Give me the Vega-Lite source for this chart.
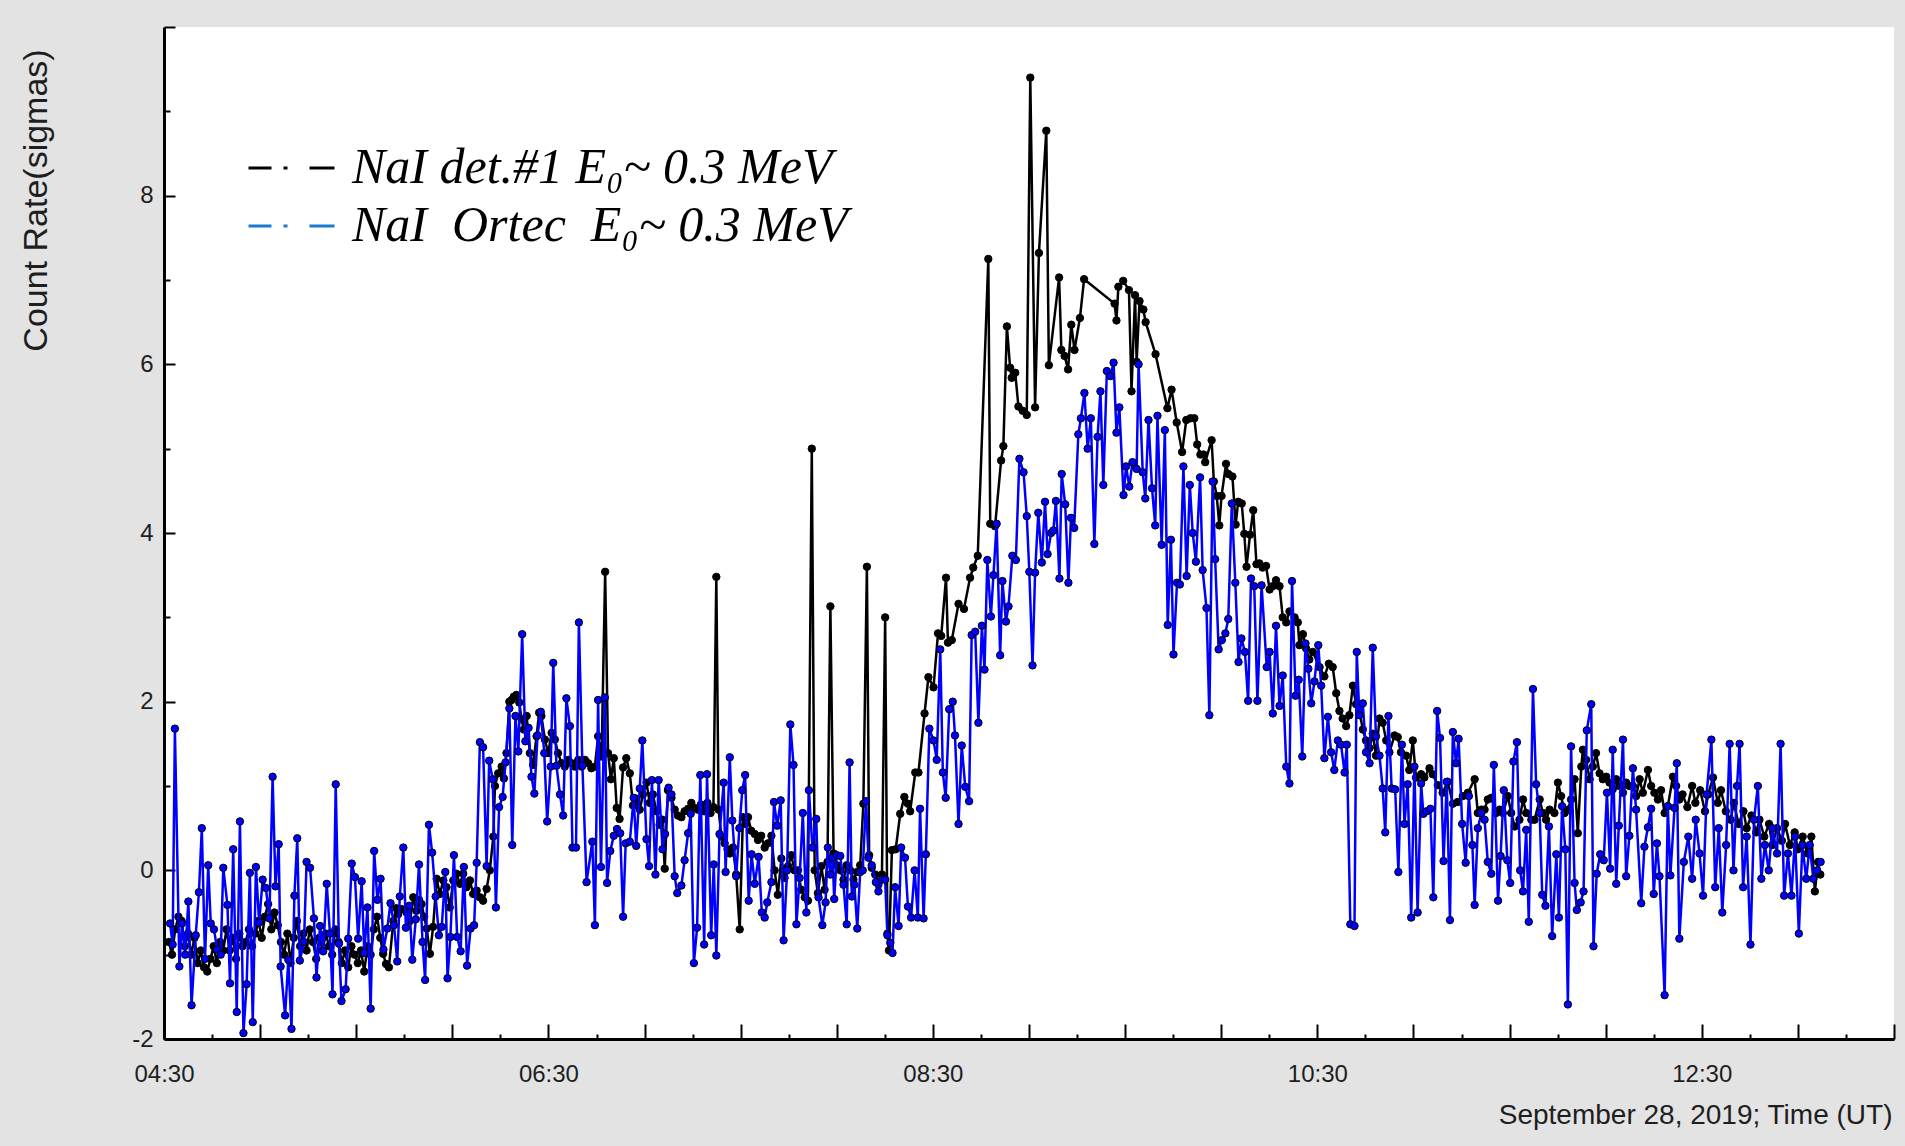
{
  "$schema": "https://vega.github.io/schema/vega-lite/v6.json",
  "width": 1730,
  "height": 1012,
  "autosize": {"type": "none"},
  "padding": {"left": 164, "top": 27, "right": 11, "bottom": 107},
  "background": "#e3e3e3",
  "config": {
    "view": {"fill": "#ffffff", "stroke": null},
    "axis": {
      "grid": false,
      "domainColor": "#000000",
      "domainWidth": 3,
      "tickColor": "#000000",
      "tickWidth": 2,
      "labelColor": "#1e1e1e",
      "titleColor": "#1e1e1e",
      "titleFontWeight": "normal",
      "labelFont": "Liberation Sans, Arial, sans-serif",
      "titleFont": "Liberation Sans, Arial, sans-serif"
    }
  },
  "encoding": {
    "x": {
      "field": "minute",
      "type": "quantitative",
      "scale": {"domain": [270, 810], "nice": false, "zero": false},
      "axis": {
        "values": [270,285,300,315,330,345,360,375,390,405,420,435,450,465,480,495,510,525,540,555,570,585,600,615,630,645,660,675,690,705,720,735,750,765,780,795,810],
        "labelExpr": "(datum.value - 270) % 120 === 0 ? timeFormat(datetime(2019, 8, 28, 0, datum.value), '%H:%M') : ''",
        "labelFontSize": 24,
        "labelPadding": 38,
        "labelFlush": false,
        "labelOverlap": false,
        "labelBaseline": "top",
        "tickSize": {"condition": {"test": "datum.value % 30 !== 0", "value": -5}, "value": -15},
        "title": "September 28, 2019; Time (UT)",
        "titleFontSize": 28,
        "titleAlign": "right",
        "titleBaseline": "middle",
        "titleX": 1728,
        "titleY": 76
      }
    },
    "y": {
      "field": "sigma",
      "type": "quantitative",
      "scale": {"domain": [-2, 10], "nice": false, "zero": false},
      "axis": {
        "values": [-2,-1,0,1,2,3,4,5,6,7,8,9,10],
        "labelExpr": "datum.value % 2 === 0 && datum.value < 10 ? '' + datum.value : ''",
        "labelFontSize": 24,
        "labelPadding": 22,
        "tickSize": {"condition": {"test": "datum.value % 2 !== 0", "value": -6}, "value": -11},
        "title": "Count Rate(sigmas)",
        "titleFontSize": 34,
        "titleAngle": -90,
        "titleAlign": "center",
        "titleBaseline": "middle",
        "titleX": -128,
        "titleY": 173
      }
    }
  },
  "layer": [
    {
      "data": {"values": [
        {"minute":271.5,"sigma":-0.85},{"minute":272.5,"sigma":-1.0},{"minute":273.5,"sigma":-0.7},{"minute":274.5,"sigma":-0.55},{"minute":275.5,"sigma":-0.6},
        {"minute":276.5,"sigma":-0.9},{"minute":277.5,"sigma":-0.75},{"minute":278.5,"sigma":-1.0},{"minute":279.5,"sigma":-0.8},{"minute":280.5,"sigma":-1.1},
        {"minute":281.5,"sigma":-0.95},{"minute":282.5,"sigma":-1.15},{"minute":283.5,"sigma":-1.2},{"minute":284.5,"sigma":-1.05},{"minute":285.5,"sigma":-0.9},
        {"minute":286.5,"sigma":-1.1},{"minute":287.5,"sigma":-0.85},{"minute":288.5,"sigma":-0.95},{"minute":289.5,"sigma":-0.7},{"minute":290.5,"sigma":-0.95},
        {"minute":291.5,"sigma":-0.8},{"minute":292.5,"sigma":-1.05},{"minute":293.5,"sigma":-0.75},{"minute":294.5,"sigma":-0.9},{"minute":295.5,"sigma":-0.85},
        {"minute":296.5,"sigma":-0.7},{"minute":297.5,"sigma":-0.9},{"minute":298.5,"sigma":-0.75},{"minute":299.5,"sigma":-0.6},{"minute":300.5,"sigma":-0.8},
        {"minute":301.5,"sigma":-0.55},{"minute":302.5,"sigma":-0.4},{"minute":303.5,"sigma":-0.7},{"minute":304.5,"sigma":-0.5},{"minute":305.5,"sigma":-0.65},
        {"minute":306.5,"sigma":-0.85},{"minute":307.5,"sigma":-1.0},{"minute":308.5,"sigma":-0.75},{"minute":309.5,"sigma":-1.1},{"minute":310.5,"sigma":-0.8},
        {"minute":311.5,"sigma":-0.6},{"minute":312.5,"sigma":-0.9},{"minute":313.5,"sigma":-0.75},{"minute":314.5,"sigma":-0.95},{"minute":315.5,"sigma":-0.7},
        {"minute":316.5,"sigma":-0.85},{"minute":317.5,"sigma":-1.05},{"minute":318.5,"sigma":-0.8},{"minute":319.5,"sigma":-0.95},{"minute":320.5,"sigma":-0.75},
        {"minute":321.5,"sigma":-0.9},{"minute":322.5,"sigma":-1.0},{"minute":323.5,"sigma":-0.7},{"minute":324.5,"sigma":-0.85},{"minute":325.5,"sigma":-1.1},
        {"minute":326.5,"sigma":-0.95},{"minute":327.5,"sigma":-1.15},{"minute":328.5,"sigma":-0.9},{"minute":329.5,"sigma":-1.0},{"minute":330.5,"sigma":-1.1},
        {"minute":331.5,"sigma":-0.95},{"minute":332.5,"sigma":-1.2},{"minute":333.5,"sigma":-0.9},{"minute":334.5,"sigma":-1.0},{"minute":335.5,"sigma":-0.7},
        {"minute":336.5,"sigma":-0.55},{"minute":337.5,"sigma":-0.8},{"minute":338.4,"sigma":-0.99},{"minute":339.3,"sigma":-1.11},{"minute":340.2,"sigma":-1.15},
        {"minute":341.6,"sigma":-0.6},{"minute":342.5,"sigma":-0.45},{"minute":343.1,"sigma":-0.52},{"minute":344.2,"sigma":-0.46},{"minute":345.7,"sigma":-0.5},
        {"minute":346.8,"sigma":-0.6},{"minute":347.8,"sigma":-0.32},{"minute":348.8,"sigma":-0.48},{"minute":349.6,"sigma":-0.35},{"minute":350.4,"sigma":-0.4},
        {"minute":351.2,"sigma":-0.55},{"minute":352.0,"sigma":-0.69},{"minute":353.0,"sigma":-0.99},{"minute":354.0,"sigma":-0.67},{"minute":355.1,"sigma":-0.1},
        {"minute":356.1,"sigma":-0.28},{"minute":357.2,"sigma":-0.12},{"minute":358.2,"sigma":-0.2},{"minute":359.2,"sigma":-0.44},{"minute":360.3,"sigma":-0.12},
        {"minute":361.3,"sigma":-0.04},{"minute":362.4,"sigma":-0.16},{"minute":363.4,"sigma":-0.04},{"minute":364.4,"sigma":-0.2},{"minute":365.5,"sigma":-0.12},
        {"minute":366.5,"sigma":-0.28},{"minute":367.6,"sigma":-0.24},{"minute":368.6,"sigma":-0.32},{"minute":369.6,"sigma":-0.36},{"minute":370.7,"sigma":-0.22},
        {"minute":371.7,"sigma":0.0},{"minute":372.8,"sigma":0.4},{"minute":373.3,"sigma":1.0},{"minute":374.3,"sigma":1.15},{"minute":375.4,"sigma":1.23},
        {"minute":376.1,"sigma":1.09},{"minute":376.9,"sigma":1.39},{"minute":377.8,"sigma":2.0},{"minute":378.5,"sigma":2.02},{"minute":379.2,"sigma":2.06},
        {"minute":380.0,"sigma":2.08},{"minute":380.9,"sigma":1.99},{"minute":381.6,"sigma":1.79},{"minute":382.3,"sigma":1.67},{"minute":383.2,"sigma":1.83},
        {"minute":384.2,"sigma":1.39},{"minute":385.2,"sigma":1.25},{"minute":386.3,"sigma":1.59},{"minute":387.1,"sigma":1.87},{"minute":387.8,"sigma":1.83},
        {"minute":388.9,"sigma":1.55},{"minute":389.9,"sigma":1.39},{"minute":391.0,"sigma":1.63},{"minute":392.0,"sigma":1.55},{"minute":393.0,"sigma":1.39},
        {"minute":394.1,"sigma":1.27},{"minute":395.1,"sigma":1.23},{"minute":396.2,"sigma":1.31},{"minute":397.2,"sigma":1.27},{"minute":398.2,"sigma":1.23},
        {"minute":399.3,"sigma":1.31},{"minute":400.3,"sigma":1.23},{"minute":401.4,"sigma":1.31},{"minute":402.4,"sigma":1.27},{"minute":403.4,"sigma":1.21},
        {"minute":404.5,"sigma":1.23},{"minute":405.5,"sigma":1.59},{"minute":406.6,"sigma":1.35},{"minute":407.7,"sigma":3.54},{"minute":408.6,"sigma":1.39},
        {"minute":409.5,"sigma":1.08},{"minute":410.4,"sigma":1.33},{"minute":411.3,"sigma":0.74},{"minute":412.2,"sigma":0.61},{"minute":413.3,"sigma":1.22},
        {"minute":414.3,"sigma":1.33},{"minute":415.4,"sigma":1.15},{"minute":416.4,"sigma":0.77},{"minute":417.4,"sigma":0.85},{"minute":418.5,"sigma":0.72},
        {"minute":419.5,"sigma":0.9},{"minute":420.6,"sigma":1.04},{"minute":421.6,"sigma":0.8},{"minute":422.6,"sigma":0.9},{"minute":423.7,"sigma":0.7},
        {"minute":424.7,"sigma":0.54},{"minute":425.5,"sigma":0.6},{"minute":426.3,"sigma":0.02},{"minute":427.3,"sigma":0.95},{"minute":428.4,"sigma":0.86},
        {"minute":429.4,"sigma":0.72},{"minute":430.4,"sigma":0.65},{"minute":431.5,"sigma":0.63},{"minute":432.5,"sigma":0.7},{"minute":433.6,"sigma":0.73},
        {"minute":434.6,"sigma":0.8},{"minute":435.6,"sigma":0.74},{"minute":436.6,"sigma":0.72},{"minute":437.6,"sigma":0.78},{"minute":438.6,"sigma":0.7},
        {"minute":439.6,"sigma":0.8},{"minute":440.6,"sigma":0.68},{"minute":441.5,"sigma":0.75},{"minute":442.4,"sigma":3.48},{"minute":443.1,"sigma":0.72},
        {"minute":444.0,"sigma":0.4},{"minute":445.0,"sigma":0.32},{"minute":445.9,"sigma":0.25},{"minute":446.6,"sigma":0.2},{"minute":447.6,"sigma":0.27},
        {"minute":448.6,"sigma":-0.05},{"minute":449.7,"sigma":-0.7},{"minute":450.7,"sigma":0.63},{"minute":451.5,"sigma":0.55},{"minute":452.3,"sigma":0.63},
        {"minute":453.3,"sigma":0.47},{"minute":454.4,"sigma":0.43},{"minute":455.4,"sigma":0.36},{"minute":456.4,"sigma":0.41},{"minute":457.5,"sigma":0.27},
        {"minute":458.5,"sigma":0.32},{"minute":459.6,"sigma":0.41},{"minute":460.6,"sigma":0.0},{"minute":461.6,"sigma":-0.29},{"minute":462.7,"sigma":0.14},
        {"minute":463.7,"sigma":-0.09},{"minute":464.8,"sigma":0.05},{"minute":465.8,"sigma":0.18},{"minute":466.8,"sigma":0.0},{"minute":467.9,"sigma":0.0},
        {"minute":468.9,"sigma":-0.23},{"minute":470.0,"sigma":-0.32},{"minute":471.0,"sigma":-0.36},{"minute":472.2,"sigma":5.0},{"minute":473.1,"sigma":0.0},
        {"minute":474.1,"sigma":-0.27},{"minute":475.2,"sigma":0.05},{"minute":476.2,"sigma":-0.23},{"minute":477.1,"sigma":0.1},{"minute":478.0,"sigma":3.13},
        {"minute":479.0,"sigma":0.2},{"minute":480.0,"sigma":0.06},{"minute":481.1,"sigma":0.0},{"minute":482.1,"sigma":-0.11},{"minute":483.1,"sigma":0.06},
        {"minute":484.2,"sigma":0.0},{"minute":485.2,"sigma":-0.11},{"minute":486.3,"sigma":-0.02},{"minute":487.3,"sigma":0.06},{"minute":488.3,"sigma":0.79},
        {"minute":489.4,"sigma":3.6},{"minute":490.1,"sigma":0.18},{"minute":490.9,"sigma":0.03},{"minute":492.0,"sigma":-0.05},{"minute":493.0,"sigma":-0.17},
        {"minute":494.1,"sigma":-0.05},{"minute":495.1,"sigma":3.0},{"minute":495.8,"sigma":-0.75},{"minute":496.3,"sigma":-0.95},{"minute":497.2,"sigma":0.24},
        {"minute":498.4,"sigma":0.25},{"minute":499.8,"sigma":0.67},{"minute":501.1,"sigma":0.87},{"minute":502.2,"sigma":0.79},{"minute":502.9,"sigma":0.7},
        {"minute":504.5,"sigma":1.16},{"minute":505.5,"sigma":1.16},{"minute":507.4,"sigma":1.86},{"minute":508.6,"sigma":2.29},{"minute":510.2,"sigma":2.17},
        {"minute":511.6,"sigma":2.81},{"minute":512.6,"sigma":2.78},{"minute":514.1,"sigma":3.47},{"minute":514.7,"sigma":2.7},{"minute":515.9,"sigma":2.73},
        {"minute":518.0,"sigma":3.16},{"minute":519.7,"sigma":3.1},{"minute":521.6,"sigma":3.47},{"minute":522.6,"sigma":3.59},{"minute":524.0,"sigma":3.73},
        {"minute":527.3,"sigma":7.25},{"minute":527.9,"sigma":4.11},{"minute":529.4,"sigma":4.08},{"minute":531.3,"sigma":4.86},{"minute":532.0,"sigma":5.03},
        {"minute":533.1,"sigma":6.45},{"minute":534.1,"sigma":5.96},{"minute":534.6,"sigma":5.84},{"minute":535.7,"sigma":5.9},{"minute":536.7,"sigma":5.5},
        {"minute":538.0,"sigma":5.45},{"minute":539.3,"sigma":5.4},{"minute":540.4,"sigma":9.4},{"minute":541.9,"sigma":5.49},{"minute":543.1,"sigma":7.32},
        {"minute":545.4,"sigma":8.77},{"minute":546.2,"sigma":5.99},{"minute":549.4,"sigma":7.03},{"minute":550.1,"sigma":6.17},{"minute":551.1,"sigma":6.1},
        {"minute":552.2,"sigma":5.94},{"minute":553.2,"sigma":6.47},{"minute":554.2,"sigma":6.17},{"minute":555.9,"sigma":6.55},{"minute":557.2,"sigma":7.01},
        {"minute":566.7,"sigma":6.72},{"minute":567.3,"sigma":6.52},{"minute":567.9,"sigma":6.92},{"minute":569.4,"sigma":6.99},{"minute":571.2,"sigma":6.88},
        {"minute":572.0,"sigma":5.68},{"minute":573.1,"sigma":6.82},{"minute":573.6,"sigma":6.03},{"minute":574.5,"sigma":6.75},{"minute":575.7,"sigma":6.65},
        {"minute":576.4,"sigma":6.5},{"minute":579.5,"sigma":6.12},{"minute":583.2,"sigma":5.48},{"minute":584.5,"sigma":5.7},{"minute":586.1,"sigma":5.31},
        {"minute":587.8,"sigma":4.96},{"minute":589.1,"sigma":5.34},{"minute":590.4,"sigma":5.36},{"minute":591.6,"sigma":5.36},{"minute":592.5,"sigma":5.05},
        {"minute":593.5,"sigma":4.93},{"minute":594.5,"sigma":4.93},{"minute":595.0,"sigma":4.84},{"minute":597.0,"sigma":5.1},{"minute":597.7,"sigma":4.61},
        {"minute":598.6,"sigma":4.44},{"minute":599.4,"sigma":4.09},{"minute":600.1,"sigma":4.44},{"minute":601.5,"sigma":4.82},{"minute":602.2,"sigma":4.7},
        {"minute":603.5,"sigma":4.67},{"minute":604.5,"sigma":4.1},{"minute":605.3,"sigma":4.37},{"minute":606.4,"sigma":4.35},{"minute":607.2,"sigma":3.99},
        {"minute":607.9,"sigma":3.6},{"minute":609.0,"sigma":3.98},{"minute":610.0,"sigma":4.27},{"minute":611.0,"sigma":3.63},{"minute":611.9,"sigma":3.64},
        {"minute":612.9,"sigma":3.59},{"minute":614.0,"sigma":3.61},{"minute":615.1,"sigma":3.33},{"minute":616.1,"sigma":3.37},{"minute":617.1,"sigma":3.44},
        {"minute":618.2,"sigma":3.37},{"minute":619.2,"sigma":3.0},{"minute":620.3,"sigma":2.94},{"minute":621.3,"sigma":3.07},{"minute":622.9,"sigma":3.0},
        {"minute":623.9,"sigma":2.94},{"minute":624.4,"sigma":2.67},{"minute":625.5,"sigma":2.8},{"minute":626.5,"sigma":2.63},{"minute":627.5,"sigma":2.5},
        {"minute":628.6,"sigma":2.59},{"minute":630.7,"sigma":2.41},{"minute":632.2,"sigma":2.3},{"minute":633.6,"sigma":2.45},{"minute":634.8,"sigma":2.41},
        {"minute":635.9,"sigma":2.1},{"minute":636.9,"sigma":1.89},{"minute":637.9,"sigma":1.8},{"minute":639.0,"sigma":1.71},{"minute":640.0,"sigma":1.84},
        {"minute":641.1,"sigma":2.19},{"minute":642.1,"sigma":1.97},{"minute":643.1,"sigma":1.89},{"minute":644.2,"sigma":1.67},{"minute":645.2,"sigma":1.54},
        {"minute":646.3,"sigma":1.45},{"minute":647.3,"sigma":1.62},{"minute":648.3,"sigma":1.36},{"minute":649.4,"sigma":1.8},{"minute":650.4,"sigma":1.75},
        {"minute":651.5,"sigma":1.54},{"minute":652.5,"sigma":1.4},{"minute":654.1,"sigma":1.6},{"minute":655.1,"sigma":1.58},{"minute":656.1,"sigma":1.4},
        {"minute":657.7,"sigma":1.36},{"minute":658.7,"sigma":1.19},{"minute":659.8,"sigma":1.54},{"minute":660.8,"sigma":1.1},{"minute":662.4,"sigma":1.14},
        {"minute":663.4,"sigma":1.1},{"minute":665.0,"sigma":1.21},{"minute":666.0,"sigma":1.14},{"minute":667.6,"sigma":1.01},{"minute":669.1,"sigma":0.92},
        {"minute":670.7,"sigma":1.05},{"minute":672.3,"sigma":0.79},{"minute":673.8,"sigma":0.81},{"minute":675.4,"sigma":0.88},{"minute":677.0,"sigma":0.92},
        {"minute":679.1,"sigma":1.08},{"minute":680.1,"sigma":0.68},{"minute":681.2,"sigma":0.72},{"minute":682.2,"sigma":0.72},{"minute":683.2,"sigma":0.84},
        {"minute":684.3,"sigma":0.86},{"minute":685.8,"sigma":0.68},{"minute":686.9,"sigma":0.72},{"minute":687.9,"sigma":0.68},{"minute":689.5,"sigma":0.88},
        {"minute":690.5,"sigma":0.68},{"minute":691.6,"sigma":0.52},{"minute":693.1,"sigma":0.6},{"minute":694.2,"sigma":0.84},{"minute":695.2,"sigma":0.68},
        {"minute":696.8,"sigma":0.6},{"minute":697.8,"sigma":0.6},{"minute":699.4,"sigma":0.84},{"minute":700.4,"sigma":0.68},{"minute":701.4,"sigma":0.6},
        {"minute":702.5,"sigma":0.72},{"minute":704.0,"sigma":0.68},{"minute":705.1,"sigma":1.04},{"minute":706.1,"sigma":0.88},{"minute":707.2,"sigma":0.68},
        {"minute":708.2,"sigma":0.72},{"minute":709.2,"sigma":0.84},{"minute":710.3,"sigma":1.08},{"minute":711.3,"sigma":0.44},{"minute":712.4,"sigma":1.23},
        {"minute":712.9,"sigma":1.43},{"minute":713.9,"sigma":1.31},{"minute":715.0,"sigma":1.08},{"minute":716.0,"sigma":1.23},{"minute":717.0,"sigma":1.39},
        {"minute":718.1,"sigma":1.15},{"minute":719.1,"sigma":1.08},{"minute":720.2,"sigma":1.11},{"minute":721.2,"sigma":1.04},{"minute":722.2,"sigma":0.96},
        {"minute":723.3,"sigma":1.08},{"minute":724.3,"sigma":1.0},{"minute":725.4,"sigma":0.92},{"minute":726.4,"sigma":1.04},{"minute":727.4,"sigma":1.0},
        {"minute":728.5,"sigma":1.0},{"minute":729.5,"sigma":0.88},{"minute":730.6,"sigma":1.08},{"minute":731.6,"sigma":0.92},{"minute":733.2,"sigma":1.19},
        {"minute":734.2,"sigma":1.0},{"minute":735.2,"sigma":0.92},{"minute":736.3,"sigma":0.84},{"minute":737.3,"sigma":0.95},{"minute":738.4,"sigma":0.68},
        {"minute":739.4,"sigma":0.76},{"minute":741.0,"sigma":1.11},{"minute":742.0,"sigma":1.0},{"minute":743.0,"sigma":0.84},{"minute":744.0,"sigma":0.9},
        {"minute":745.5,"sigma":0.75},{"minute":747.0,"sigma":1.0},{"minute":748.0,"sigma":0.8},{"minute":749.5,"sigma":0.95},{"minute":751.0,"sigma":0.7},
        {"minute":752.0,"sigma":0.9},{"minute":753.5,"sigma":1.1},{"minute":755.0,"sigma":0.8},{"minute":756.0,"sigma":0.95},{"minute":757.5,"sigma":0.7},
        {"minute":759.0,"sigma":0.6},{"minute":760.0,"sigma":0.8},{"minute":761.5,"sigma":0.55},{"minute":763.0,"sigma":0.7},{"minute":764.0,"sigma":0.5},
        {"minute":765.5,"sigma":0.65},{"minute":767.0,"sigma":0.45},{"minute":768.0,"sigma":0.6},{"minute":769.5,"sigma":0.4},{"minute":771.0,"sigma":0.55},
        {"minute":772.0,"sigma":0.3},{"minute":773.5,"sigma":0.5},{"minute":775.0,"sigma":0.35},{"minute":776.0,"sigma":0.55},{"minute":777.5,"sigma":0.3},
        {"minute":779.0,"sigma":0.45},{"minute":780.0,"sigma":0.25},{"minute":781.5,"sigma":0.4},{"minute":783.0,"sigma":0.2},{"minute":784.2,"sigma":0.4},
        {"minute":785.3,"sigma":-0.25},{"minute":786.3,"sigma":0.1},{"minute":787.0,"sigma":-0.05}
      ]},
      "layer": [
        {
          "mark": {"type": "line", "strokeWidth": 2.5},
          "encoding": {
            "color": {
              "datum": "NaI det.#1 E\u2080~ 0.3 MeV",
              "type": "nominal",
              "scale": {"domain": ["NaI det.#1 E\u2080~ 0.3 MeV", "NaI\u2002Ortec\u2002E\u2080~ 0.3 MeV"], "range": ["#000000", "#1a7ad2"]},
              "legend": {
                "orient": "none",
                "legendX": 83,
                "legendY": 113,
                "title": null,
                "padding": 0,
                "symbolType": "stroke",
                "symbolSize": 7396,
                "symbolStrokeWidth": 3,
                "symbolDash": [23, 12, 4, 22, 25],
                "symbolOpacity": 1,
                "clipHeight": 56,
                "rowPadding": 2,
                "labelFont": "Liberation Serif, DejaVu Serif, serif",
                "labelFontStyle": "italic",
                "labelFontSize": 50,
                "labelColor": "#000000",
                "labelOffset": 16,
                "labelLimit": 1200
              }
            }
          }
        },
        {
          "mark": {"type": "point", "filled": true, "size": 55, "opacity": 1, "stroke": "#000000", "strokeWidth": 1},
          "encoding": {"color": {"datum": "NaI det.#1 E\u2080~ 0.3 MeV", "type": "nominal"}}
        }
      ]
    },
    {
      "data": {"values": [
        {"minute":271.9,"sigma":-0.63},{"minute":272.7,"sigma":-0.88},{"minute":273.4,"sigma":1.68},{"minute":274.8,"sigma":-1.14},{"minute":275.6,"sigma":-0.63},
        {"minute":276.6,"sigma":-1.0},{"minute":277.6,"sigma":-0.37},{"minute":278.6,"sigma":-1.6},{"minute":279.9,"sigma":-0.77},{"minute":280.9,"sigma":-0.26},
        {"minute":281.8,"sigma":0.5},{"minute":282.8,"sigma":-1.05},{"minute":283.8,"sigma":0.06},{"minute":284.6,"sigma":-0.63},{"minute":285.6,"sigma":-0.7},
        {"minute":286.6,"sigma":-0.94},{"minute":287.7,"sigma":-1.0},{"minute":288.5,"sigma":0.03},{"minute":289.8,"sigma":-0.41},{"minute":290.6,"sigma":-1.34},
        {"minute":291.6,"sigma":0.25},{"minute":292.7,"sigma":-1.68},{"minute":293.7,"sigma":0.58},{"minute":294.8,"sigma":-1.93},{"minute":295.8,"sigma":-1.35},
        {"minute":296.8,"sigma":-0.03},{"minute":297.7,"sigma":-1.8},{"minute":298.7,"sigma":0.04},{"minute":299.7,"sigma":-0.62},{"minute":300.8,"sigma":-0.11},
        {"minute":301.8,"sigma":-0.21},{"minute":302.9,"sigma":-0.57},{"minute":303.9,"sigma":1.11},{"minute":304.8,"sigma":-0.19},{"minute":305.8,"sigma":0.31},
        {"minute":306.4,"sigma":-1.14},{"minute":307.8,"sigma":-1.72},{"minute":308.8,"sigma":-1.06},{"minute":309.8,"sigma":-1.88},{"minute":310.7,"sigma":-0.3},
        {"minute":311.6,"sigma":0.38},{"minute":312.4,"sigma":-1.07},{"minute":313.7,"sigma":-0.85},{"minute":314.5,"sigma":0.1},{"minute":315.6,"sigma":0.03},
        {"minute":316.8,"sigma":-0.57},{"minute":317.6,"sigma":-1.27},{"minute":318.7,"sigma":-0.66},{"minute":319.7,"sigma":-0.96},{"minute":320.8,"sigma":-0.16},
        {"minute":321.8,"sigma":-0.75},{"minute":322.6,"sigma":-1.47},{"minute":323.6,"sigma":1.02},{"minute":324.6,"sigma":-0.87},{"minute":325.4,"sigma":-1.55},
        {"minute":326.7,"sigma":-1.41},{"minute":327.5,"sigma":-0.81},{"minute":328.6,"sigma":0.08},{"minute":329.6,"sigma":-0.08},{"minute":330.6,"sigma":-0.81},
        {"minute":331.7,"sigma":-0.13},{"minute":332.5,"sigma":-0.98},{"minute":333.5,"sigma":-0.44},{"minute":334.5,"sigma":-1.64},{"minute":335.6,"sigma":0.23},
        {"minute":336.6,"sigma":-0.35},{"minute":337.6,"sigma":-0.1},{"minute":338.5,"sigma":-0.94},{"minute":339.7,"sigma":-0.69},{"minute":340.7,"sigma":-0.39},
        {"minute":341.8,"sigma":-0.65},{"minute":342.8,"sigma":-1.08},{"minute":343.6,"sigma":-0.31},{"minute":344.7,"sigma":0.27},{"minute":345.5,"sigma":-0.68},
        {"minute":346.6,"sigma":-0.42},{"minute":347.5,"sigma":-1.06},{"minute":348.6,"sigma":-0.58},{"minute":349.6,"sigma":0.07},{"minute":350.7,"sigma":-0.85},
        {"minute":351.5,"sigma":-1.3},{"minute":352.7,"sigma":0.54},{"minute":353.7,"sigma":0.21},{"minute":354.8,"sigma":-0.31},{"minute":355.8,"sigma":-0.77},
        {"minute":356.7,"sigma":-0.67},{"minute":357.8,"sigma":-0.02},{"minute":358.5,"sigma":-1.28},{"minute":359.4,"sigma":-0.79},{"minute":360.5,"sigma":0.18},
        {"minute":361.5,"sigma":-0.79},{"minute":362.6,"sigma":-0.96},{"minute":363.6,"sigma":0.04},{"minute":364.6,"sigma":-1.13},{"minute":365.7,"sigma":-0.69},
        {"minute":366.8,"sigma":-0.65},{"minute":367.6,"sigma":0.09},{"minute":368.6,"sigma":1.52},{"minute":369.6,"sigma":1.46},{"minute":370.7,"sigma":0.05},
        {"minute":371.5,"sigma":1.3},{"minute":372.6,"sigma":1.08},{"minute":373.6,"sigma":-0.44},{"minute":374.6,"sigma":0.75},{"minute":375.7,"sigma":0.87},
        {"minute":376.6,"sigma":1.28},{"minute":377.8,"sigma":1.92},{"minute":378.7,"sigma":0.3},{"minute":379.7,"sigma":1.83},{"minute":380.6,"sigma":1.41},
        {"minute":381.8,"sigma":2.8},{"minute":382.8,"sigma":1.53},{"minute":383.8,"sigma":1.69},{"minute":384.7,"sigma":1.11},{"minute":385.6,"sigma":0.91},
        {"minute":386.6,"sigma":1.6},{"minute":387.6,"sigma":1.88},{"minute":388.7,"sigma":1.39},{"minute":389.6,"sigma":0.58},{"minute":390.7,"sigma":1.23},
        {"minute":391.5,"sigma":2.46},{"minute":392.5,"sigma":1.24},{"minute":393.6,"sigma":0.9},{"minute":394.6,"sigma":0.65},{"minute":395.6,"sigma":2.04},
        {"minute":396.7,"sigma":1.71},{"minute":397.5,"sigma":0.27},{"minute":398.6,"sigma":0.27},{"minute":399.5,"sigma":2.94},{"minute":400.6,"sigma":1.24},
        {"minute":401.9,"sigma":-0.14},{"minute":403.7,"sigma":0.34},{"minute":404.5,"sigma":-0.65},{"minute":405.5,"sigma":2.02},{"minute":406.4,"sigma":0.04},
        {"minute":407.6,"sigma":2.05},{"minute":408.3,"sigma":-0.15},{"minute":409.3,"sigma":0.23},{"minute":410.4,"sigma":0.41},{"minute":411.4,"sigma":0.49},
        {"minute":412.4,"sigma":0.44},{"minute":413.3,"sigma":-0.55},{"minute":414.1,"sigma":0.32},{"minute":415.4,"sigma":0.34},{"minute":416.6,"sigma":0.86},
        {"minute":417.4,"sigma":0.29},{"minute":418.5,"sigma":0.97},{"minute":419.3,"sigma":1.54},{"minute":420.6,"sigma":0.37},{"minute":421.4,"sigma":0.05},
        {"minute":422.3,"sigma":1.07},{"minute":423.4,"sigma":-0.05},{"minute":424.4,"sigma":1.07},{"minute":425.6,"sigma":0.25},{"minute":426.4,"sigma":0.43},
        {"minute":427.5,"sigma":0.98},{"minute":428.4,"sigma":0.9},{"minute":429.4,"sigma":-0.07},{"minute":430.2,"sigma":-0.27},{"minute":431.5,"sigma":-0.18},
        {"minute":432.5,"sigma":0.12},{"minute":433.6,"sigma":0.44},{"minute":434.4,"sigma":0.67},{"minute":435.4,"sigma":-1.1},{"minute":436.4,"sigma":-0.68},
        {"minute":437.4,"sigma":1.13},{"minute":438.6,"sigma":-0.88},{"minute":439.5,"sigma":1.14},{"minute":440.8,"sigma":-0.77},{"minute":441.6,"sigma":0.07},
        {"minute":442.4,"sigma":-1.01},{"minute":443.4,"sigma":0.43},{"minute":444.7,"sigma":1.04},{"minute":445.3,"sigma":-0.02},{"minute":446.6,"sigma":1.34},
        {"minute":447.4,"sigma":0.59},{"minute":448.6,"sigma":-0.07},{"minute":449.6,"sigma":0.5},{"minute":450.5,"sigma":0.95},{"minute":451.4,"sigma":1.13},
        {"minute":452.5,"sigma":-0.36},{"minute":453.4,"sigma":0.19},{"minute":454.4,"sigma":-0.16},{"minute":455.6,"sigma":0.16},{"minute":456.6,"sigma":-0.5},
        {"minute":457.5,"sigma":-0.56},{"minute":458.3,"sigma":-0.38},{"minute":459.6,"sigma":-0.14},{"minute":460.4,"sigma":0.81},{"minute":461.4,"sigma":0.53},
        {"minute":462.5,"sigma":0.83},{"minute":463.4,"sigma":-0.83},{"minute":464.5,"sigma":0.0},{"minute":465.5,"sigma":1.73},{"minute":466.5,"sigma":1.25},
        {"minute":467.4,"sigma":-0.64},{"minute":468.4,"sigma":-0.09},{"minute":469.4,"sigma":0.68},{"minute":470.5,"sigma":-0.5},{"minute":471.3,"sigma":0.95},
        {"minute":472.4,"sigma":0.27},{"minute":473.6,"sigma":0.61},{"minute":474.3,"sigma":-0.32},{"minute":475.5,"sigma":-0.65},{"minute":476.5,"sigma":-0.38},
        {"minute":477.2,"sigma":0.27},{"minute":478.0,"sigma":-0.05},{"minute":478.7,"sigma":0.15},{"minute":479.2,"sigma":-0.34},{"minute":480.0,"sigma":0.18},
        {"minute":481.1,"sigma":0.17},{"minute":482.1,"sigma":-0.17},{"minute":483.1,"sigma":-0.64},{"minute":484.0,"sigma":1.28},{"minute":484.7,"sigma":-0.31},
        {"minute":485.5,"sigma":-0.17},{"minute":486.4,"sigma":-0.69},{"minute":487.3,"sigma":-0.02},{"minute":488.1,"sigma":0.0},{"minute":489.1,"sigma":0.82},
        {"minute":489.9,"sigma":0.15},{"minute":490.9,"sigma":0.06},{"minute":492.2,"sigma":-0.14},{"minute":493.0,"sigma":-0.25},{"minute":494.1,"sigma":-0.11},
        {"minute":495.1,"sigma":-0.11},{"minute":495.8,"sigma":-0.77},{"minute":496.7,"sigma":-0.86},{"minute":497.4,"sigma":-0.98},{"minute":498.2,"sigma":-0.2},
        {"minute":499.3,"sigma":-0.66},{"minute":500.1,"sigma":0.27},{"minute":501.3,"sigma":0.15},{"minute":502.2,"sigma":-0.43},{"minute":503.2,"sigma":-0.56},
        {"minute":504.3,"sigma":0.0},{"minute":505.3,"sigma":-0.56},{"minute":506.0,"sigma":0.73},{"minute":507.1,"sigma":-0.57},{"minute":507.8,"sigma":0.19},
        {"minute":508.9,"sigma":1.68},{"minute":510.2,"sigma":1.54},{"minute":511.2,"sigma":1.31},{"minute":512.3,"sigma":2.62},{"minute":513.1,"sigma":1.16},
        {"minute":514.0,"sigma":0.86},{"minute":515.1,"sigma":1.91},{"minute":516.2,"sigma":2.0},{"minute":516.9,"sigma":1.6},{"minute":518.0,"sigma":0.55},
        {"minute":519.0,"sigma":1.48},{"minute":520.1,"sigma":0.99},{"minute":521.3,"sigma":0.82},{"minute":522.1,"sigma":2.79},{"minute":523.2,"sigma":2.83},
        {"minute":524.2,"sigma":1.75},{"minute":525.3,"sigma":2.9},{"minute":526.1,"sigma":2.38},{"minute":527.0,"sigma":3.68},{"minute":528.1,"sigma":3.01},
        {"minute":528.9,"sigma":3.5},{"minute":529.9,"sigma":4.11},{"minute":531.0,"sigma":2.55},{"minute":531.7,"sigma":3.43},{"minute":532.8,"sigma":2.95},
        {"minute":533.6,"sigma":3.13},{"minute":534.8,"sigma":3.73},{"minute":535.9,"sigma":3.68},{"minute":537.0,"sigma":4.88},{"minute":538.3,"sigma":4.72},
        {"minute":539.3,"sigma":4.2},{"minute":540.1,"sigma":3.54},{"minute":541.1,"sigma":2.43},{"minute":541.9,"sigma":3.53},{"minute":542.9,"sigma":4.24},
        {"minute":544.0,"sigma":3.65},{"minute":545.0,"sigma":4.37},{"minute":545.8,"sigma":3.75},{"minute":546.9,"sigma":4.0},{"minute":547.6,"sigma":4.03},
        {"minute":548.4,"sigma":4.38},{"minute":549.5,"sigma":3.46},{"minute":550.2,"sigma":4.7},{"minute":551.3,"sigma":4.34},{"minute":552.3,"sigma":3.41},
        {"minute":553.1,"sigma":4.18},{"minute":554.1,"sigma":4.06},{"minute":555.4,"sigma":5.17},{"minute":556.2,"sigma":5.36},{"minute":557.3,"sigma":5.66},
        {"minute":558.3,"sigma":5.0},{"minute":559.3,"sigma":5.36},{"minute":560.4,"sigma":3.87},{"minute":561.4,"sigma":5.14},{"minute":562.3,"sigma":5.68},
        {"minute":563.2,"sigma":4.57},{"minute":564.3,"sigma":5.92},{"minute":565.4,"sigma":5.86},{"minute":566.4,"sigma":6.02},{"minute":567.3,"sigma":5.19},
        {"minute":568.2,"sigma":5.49},{"minute":569.5,"sigma":4.45},{"minute":570.3,"sigma":4.79},{"minute":571.3,"sigma":4.55},{"minute":572.3,"sigma":4.84},
        {"minute":573.6,"sigma":4.76},{"minute":574.2,"sigma":6.0},{"minute":575.5,"sigma":4.72},{"minute":576.3,"sigma":4.41},{"minute":577.3,"sigma":5.34},
        {"minute":578.4,"sigma":4.53},{"minute":579.4,"sigma":4.09},{"minute":580.1,"sigma":5.39},{"minute":581.4,"sigma":3.86},{"minute":582.4,"sigma":5.22},
        {"minute":583.3,"sigma":2.91},{"minute":584.3,"sigma":3.92},{"minute":585.1,"sigma":2.56},{"minute":586.2,"sigma":3.41},{"minute":587.1,"sigma":3.39},
        {"minute":588.2,"sigma":4.79},{"minute":589.2,"sigma":3.49},{"minute":590.2,"sigma":4.57},{"minute":591.1,"sigma":4.0},{"minute":592.1,"sigma":3.66},
        {"minute":593.4,"sigma":4.66},{"minute":594.2,"sigma":3.56},{"minute":595.4,"sigma":3.11},{"minute":596.3,"sigma":1.84},{"minute":597.3,"sigma":4.61},
        {"minute":598.1,"sigma":3.69},{"minute":599.2,"sigma":2.62},{"minute":600.2,"sigma":2.73},{"minute":601.3,"sigma":2.81},{"minute":602.2,"sigma":2.98},
        {"minute":603.3,"sigma":4.35},{"minute":604.4,"sigma":3.41},{"minute":605.4,"sigma":2.47},{"minute":606.3,"sigma":2.75},{"minute":607.4,"sigma":2.59},
        {"minute":608.4,"sigma":2.01},{"minute":609.3,"sigma":3.46},{"minute":610.3,"sigma":3.37},{"minute":611.3,"sigma":2.01},{"minute":612.6,"sigma":3.38},
        {"minute":614.2,"sigma":2.41},{"minute":615.1,"sigma":2.59},{"minute":616.1,"sigma":1.86},{"minute":617.1,"sigma":2.9},{"minute":618.2,"sigma":1.95},
        {"minute":619.2,"sigma":2.31},{"minute":620.3,"sigma":1.23},{"minute":621.3,"sigma":1.03},{"minute":622.1,"sigma":3.43},{"minute":623.2,"sigma":2.07},
        {"minute":624.2,"sigma":2.26},{"minute":625.3,"sigma":1.35},{"minute":626.3,"sigma":2.69},{"minute":627.2,"sigma":2.39},{"minute":628.1,"sigma":1.98},
        {"minute":629.1,"sigma":2.24},{"minute":630.3,"sigma":2.67},{"minute":631.2,"sigma":2.19},{"minute":632.2,"sigma":1.33},{"minute":633.3,"sigma":1.82},
        {"minute":634.3,"sigma":1.4},{"minute":635.3,"sigma":1.19},{"minute":636.4,"sigma":1.54},{"minute":637.4,"sigma":1.49},{"minute":638.5,"sigma":1.16},
        {"minute":639.2,"sigma":1.49},{"minute":640.3,"sigma":-0.64},{"minute":641.6,"sigma":-0.66},{"minute":642.3,"sigma":2.59},{"minute":643.1,"sigma":1.84},
        {"minute":644.2,"sigma":1.98},{"minute":645.2,"sigma":1.4},{"minute":646.3,"sigma":1.27},{"minute":647.3,"sigma":2.64},{"minute":648.3,"sigma":1.59},
        {"minute":649.4,"sigma":1.36},{"minute":650.4,"sigma":0.97},{"minute":651.2,"sigma":0.45},{"minute":652.2,"sigma":1.83},{"minute":653.2,"sigma":0.97},
        {"minute":654.3,"sigma":0.96},{"minute":655.3,"sigma":-0.02},{"minute":656.4,"sigma":1.49},{"minute":657.2,"sigma":0.55},{"minute":658.2,"sigma":1.02},
        {"minute":659.3,"sigma":-0.56},{"minute":660.3,"sigma":1.23},{"minute":661.3,"sigma":-0.5},{"minute":662.4,"sigma":1.03},{"minute":663.1,"sigma":0.67},
        {"minute":664.1,"sigma":0.7},{"minute":665.3,"sigma":0.73},{"minute":666.2,"sigma":-0.32},{"minute":667.4,"sigma":1.89},{"minute":668.3,"sigma":1.57},
        {"minute":669.4,"sigma":0.11},{"minute":670.4,"sigma":1.05},{"minute":671.4,"sigma":-0.59},{"minute":672.3,"sigma":1.64},{"minute":673.3,"sigma":1.27},
        {"minute":674.1,"sigma":1.56},{"minute":675.2,"sigma":0.55},{"minute":676.3,"sigma":0.09},{"minute":677.3,"sigma":0.88},{"minute":678.4,"sigma":0.3},
        {"minute":679.1,"sigma":-0.41},{"minute":680.1,"sigma":0.5},{"minute":681.2,"sigma":0.68},{"minute":682.2,"sigma":0.6},{"minute":683.2,"sigma":0.1},
        {"minute":684.3,"sigma":-0.04},{"minute":685.1,"sigma":1.25},{"minute":686.4,"sigma":-0.36},{"minute":687.2,"sigma":0.17},{"minute":688.2,"sigma":0.95},
        {"minute":689.3,"sigma":0.12},{"minute":690.2,"sigma":-0.15},{"minute":691.2,"sigma":1.29},{"minute":692.3,"sigma":1.52},{"minute":693.3,"sigma":0.0},
        {"minute":694.2,"sigma":-0.25},{"minute":695.2,"sigma":0.48},{"minute":696.0,"sigma":-0.61},{"minute":697.3,"sigma":2.15},{"minute":698.3,"sigma":1.02},
        {"minute":699.4,"sigma":0.68},{"minute":700.2,"sigma":-0.29},{"minute":701.2,"sigma":-0.42},{"minute":702.3,"sigma":0.52},{"minute":703.3,"sigma":-0.78},
        {"minute":704.6,"sigma":0.19},{"minute":705.4,"sigma":-0.56},{"minute":706.4,"sigma":0.76},{"minute":707.4,"sigma":0.25},{"minute":708.2,"sigma":-1.59},
        {"minute":709.2,"sigma":1.47},{"minute":710.3,"sigma":-0.15},{"minute":711.0,"sigma":-0.47},{"minute":712.2,"sigma":-0.38},{"minute":713.1,"sigma":-0.25},
        {"minute":714.1,"sigma":1.66},{"minute":715.5,"sigma":1.97},{"minute":716.2,"sigma":-0.9},{"minute":717.2,"sigma":-0.04},{"minute":718.3,"sigma":0.19},
        {"minute":719.4,"sigma":0.12},{"minute":720.4,"sigma":0.92},{"minute":721.4,"sigma":0.02},{"minute":722.2,"sigma":1.43},{"minute":723.3,"sigma":-0.16},
        {"minute":724.1,"sigma":0.53},{"minute":725.4,"sigma":1.55},{"minute":726.4,"sigma":-0.07},{"minute":727.4,"sigma":0.41},{"minute":728.5,"sigma":1.21},
        {"minute":729.5,"sigma":0.72},{"minute":731.1,"sigma":-0.39},{"minute":732.1,"sigma":0.28},{"minute":733.2,"sigma":0.51},{"minute":734.2,"sigma":0.73},
        {"minute":735.0,"sigma":-0.28},{"minute":736.0,"sigma":0.32},{"minute":736.8,"sigma":-0.07},{"minute":738.4,"sigma":-1.48},{"minute":739.4,"sigma":0.76},
        {"minute":740.2,"sigma":-0.06},{"minute":741.5,"sigma":0.74},{"minute":742.2,"sigma":1.27},{"minute":743.0,"sigma":-0.81},{"minute":744.4,"sigma":0.1},
        {"minute":745.8,"sigma":0.4},{"minute":747.0,"sigma":-0.1},{"minute":748.1,"sigma":0.6},{"minute":749.3,"sigma":0.2},{"minute":750.4,"sigma":-0.3},
        {"minute":751.5,"sigma":0.9},{"minute":753.0,"sigma":1.55},{"minute":754.2,"sigma":-0.2},{"minute":755.3,"sigma":0.5},{"minute":756.4,"sigma":-0.5},
        {"minute":757.6,"sigma":0.3},{"minute":758.7,"sigma":1.5},{"minute":759.9,"sigma":0.0},{"minute":761.0,"sigma":1.0},{"minute":761.8,"sigma":1.5},
        {"minute":762.9,"sigma":-0.2},{"minute":764.0,"sigma":0.4},{"minute":765.2,"sigma":-0.88},{"minute":766.3,"sigma":0.6},{"minute":767.5,"sigma":1.0},
        {"minute":768.6,"sigma":-0.1},{"minute":769.7,"sigma":0.3},{"minute":770.9,"sigma":0.0},{"minute":772.0,"sigma":0.5},{"minute":773.5,"sigma":0.2},
        {"minute":774.6,"sigma":1.5},{"minute":775.7,"sigma":-0.3},{"minute":776.9,"sigma":0.2},{"minute":778.0,"sigma":-0.3},{"minute":779.1,"sigma":0.4},
        {"minute":780.3,"sigma":-0.75},{"minute":781.4,"sigma":0.3},{"minute":782.6,"sigma":-0.1},{"minute":783.7,"sigma":0.3},{"minute":784.8,"sigma":-0.1},
        {"minute":786.0,"sigma":0.0},{"minute":787.1,"sigma":0.1}
      ]},
      "layer": [
        {
          "mark": {"type": "line", "strokeWidth": 2.5, "color": "#0000ff"}
        },
        {
          "mark": {"type": "point", "filled": true, "size": 55, "opacity": 1, "fill": "#0000ff", "stroke": "#000000", "strokeWidth": 1}
        }
      ]
    }
  ]
}
